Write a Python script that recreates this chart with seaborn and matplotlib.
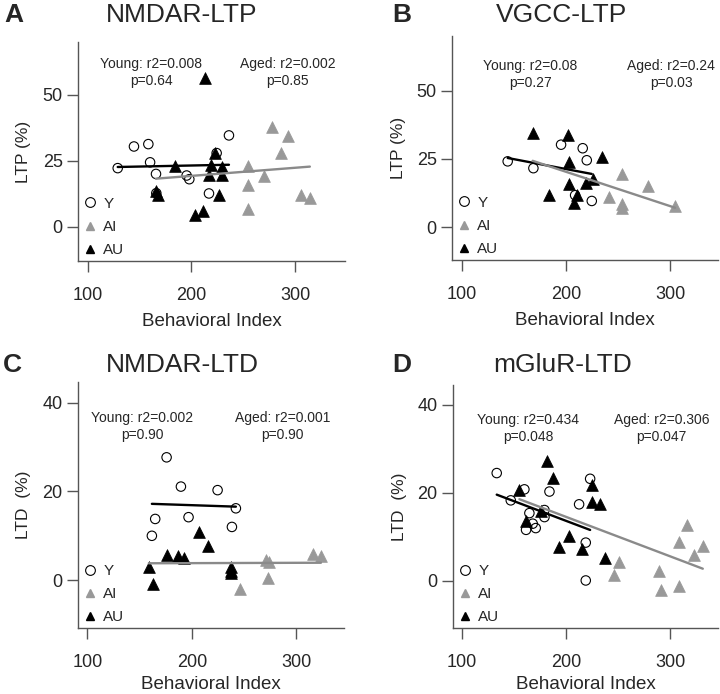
import numpy as np
import pandas as pd
import matplotlib
matplotlib.use('Agg')
from matplotlib import pyplot as plt
from matplotlib.lines import Line2D
import seaborn as sns

# A: NMDAR-LTP
a_young_x = [128.7, 144.4, 158.3, 160.0, 165.7, 166.0, 195.3, 197.9, 216.9, 224.3, 236.2]
a_young_y = [22.2, 30.4, 31.3, 24.4, 20.0, 12.7, 19.4, 18.0, 12.6, 27.9, 34.6]
a_ai_x = [254.9, 254.9, 254.9, 270.4, 278.1, 286.1, 293.5, 305.4, 314.4]
a_ai_y = [23.1, 15.9, 6.7, 19.1, 37.6, 27.9, 34.2, 12.1, 10.9]
a_au_x = [184.0, 165.6, 167.9, 203.4, 210.8, 218.9, 217.3, 222.8, 229.8, 229.8, 226.6, 213.0]
a_au_y = [23.1, 13.6, 12.1, 4.5, 6.1, 23.5, 19.7, 28.1, 22.6, 19.7, 12.1, 56.5]

# B: VGCC-LTP
b_young_x = [143.9, 168.6, 195.2, 216.0, 219.9, 224.7, 208.7]
b_young_y = [24.1, 21.6, 30.2, 28.9, 24.5, 9.6, 11.7]
b_ai_x = [241.6, 253.5, 253.5, 254.2, 278.5, 304.8]
b_ai_y = [11.1, 19.6, 8.4, 7.0, 15.1, 7.8]
b_au_x = [167.9, 202.2, 202.9, 183.7, 203.2, 210.3, 208.1, 219.0, 225.7, 234.3]
b_au_y = [34.6, 33.8, 23.8, 11.7, 15.7, 11.7, 8.9, 16.2, 17.5, 25.7]

# C: NMDAR-LTD
c_young_x = [175.8, 189.5, 224.6, 242.1, 164.9, 196.8, 161.7, 238.3]
c_young_y = [27.7, 21.1, 20.3, 16.2, 13.8, 14.2, 10.0, 12.0]
c_ai_x = [245.9, 270.8, 274.0, 272.4, 316.1, 323.5]
c_ai_y = [-2.1, 4.5, 4.1, 0.4, 5.9, 5.4]
c_au_x = [206.4, 215.0, 176.1, 186.3, 192.4, 158.8, 163.0, 237.3, 237.3, 237.3]
c_au_y = [10.9, 7.7, 5.6, 5.4, 5.1, 3.0, -0.9, 3.0, 2.1, 1.6]

# D: mGluR-LTD
d_young_x = [133.3, 146.8, 159.9, 164.7, 167.9, 161.5, 170.8, 179.2, 179.2, 184.0, 212.5, 223.1, 218.9, 218.9]
d_young_y = [24.5, 18.3, 20.8, 15.4, 13.0, 11.6, 12.0, 14.5, 16.1, 20.3, 17.4, 23.2, 8.7, 0.1]
d_ai_x = [251.3, 246.2, 289.7, 291.3, 309.0, 309.0, 316.0, 323.1, 331.4]
d_ai_y = [4.2, 1.4, 2.3, -2.0, -1.1, 8.8, 12.6, 5.9, 8.0]
d_au_x = [155.1, 181.4, 187.2, 161.8, 176.3, 193.0, 202.9, 215.1, 225.3, 225.3, 232.7, 237.5]
d_au_y = [20.7, 27.3, 23.3, 13.5, 15.8, 7.8, 10.1, 7.3, 21.7, 18.0, 17.5, 5.2]

letters = ['A', 'B', 'C', 'D']
titles = ['NMDAR-LTP', 'VGCC-LTP', 'NMDAR-LTD', 'mGluR-LTD']
ylabels = ['LTP (%)', 'LTP (%)', 'LTD  (%)', 'LTD  (%)']
young_stats = ['Young: r2=0.008\np=0.64', 'Young: r2=0.08\np=0.27',
               'Young: r2=0.002\np=0.90', 'Young: r2=0.434\np=0.048']
aged_stats = ['Aged: r2=0.002\np=0.85', 'Aged: r2=0.24\np=0.03',
              'Aged: r2=0.001\np=0.90', 'Aged: r2=0.306\np=0.047']
yticks = [[0, 25, 50], [0, 25, 50], [0, 20, 40], [0, 20, 40]]
xticks = [100, 200, 300]

sns.set_style('ticks')
plt.rcParams['font.family'] = ['Liberation Sans', 'DejaVu Sans']

AI_COLOR = '#999999'
LINE_GREY = '#8a8a8a'
SPINE = '#555555'

fig = plt.figure(figsize=(7.2, 6.94), dpi=100)
rects = [[0.1083, 0.6239, 0.3708, 0.3156],
         [0.6278, 0.6254, 0.3694, 0.3228],
         [0.1083, 0.0951, 0.3694, 0.3545],
         [0.6292, 0.0951, 0.3680, 0.3501]]
xlims = [(90.3, 348.3), (90.4, 346), (91, 345.5), (91.3, 346)]
ylims = [(-13, 70), (-12, 70), (-10.8, 44.7), (-10.7, 44.5)]
stat_pos = [(161, 292.7, 58.5), (165.4, 301, 56), (152.6, 286.6, 34.7), (163.5, 292, 34.7)]
title_pos = [(182, 15), (562, 15), (182, 365), (563, 365)]
letter_pos = [(14, 15), (402, 15), (12, 365), (402, 365)]
xlabel_pads = [6, 6, 3, 3]

panels = [
    (a_young_x, a_young_y, a_ai_x, a_ai_y, a_au_x, a_au_y),
    (b_young_x, b_young_y, b_ai_x, b_ai_y, b_au_x, b_au_y),
    (c_young_x, c_young_y, c_ai_x, c_ai_y, c_au_x, c_au_y),
    (d_young_x, d_young_y, d_ai_x, d_ai_y, d_au_x, d_au_y),
]

for i, (yx, yy, aix, aiy, aux, auy) in enumerate(panels):
    ax = fig.add_axes(rects[i])
    aged_x = np.array(aix + aux)
    aged_y = np.array(aiy + auy)

    sns.scatterplot(x=yx, y=yy, ax=ax, marker='o', s=46, facecolor='none',
                    edgecolor='black', linewidth=0.8, zorder=3)
    sns.scatterplot(x=aix, y=aiy, ax=ax, marker='^', s=72, color=AI_COLOR,
                    edgecolor=AI_COLOR, linewidth=0.5, zorder=3)
    sns.scatterplot(x=aux, y=auy, ax=ax, marker='^', s=72, color='black',
                    edgecolor='black', linewidth=0.5, zorder=4)

    sns.regplot(x=np.array(yx), y=np.array(yy), ax=ax, scatter=False, ci=None,
                truncate=True, color='black', line_kws={'lw': 1.7, 'zorder': 5})
    sns.regplot(x=aged_x, y=aged_y, ax=ax, scatter=False, ci=None,
                truncate=True, color=LINE_GREY, line_kws={'lw': 1.7, 'zorder': 5})

    ax.set_xlim(*xlims[i])
    ax.set_ylim(*ylims[i])
    ax.set_xticks(xticks)
    ax.set_yticks(yticks[i])
    ax.tick_params(axis='both', direction='out', length=8, width=1,
                   color=SPINE, labelsize=13)
    ax.tick_params(axis='x', pad=11)
    ax.tick_params(axis='y', pad=3)
    for side in ['top', 'right']:
        ax.spines[side].set_visible(False)
    for side in ['left', 'bottom']:
        ax.spines[side].set_color(SPINE)
        ax.spines[side].set_linewidth(1)

    ax.set_xlabel('Behavioral Index', fontsize=13.5, labelpad=xlabel_pads[i])
    ax.set_ylabel(ylabels[i], fontsize=12.5, labelpad=8)

    sx_young, sx_aged, sy = stat_pos[i]
    ax.text(sx_young, sy, young_stats[i], ha='center', va='center',
            fontsize=10, linespacing=1.25)
    ax.text(sx_aged, sy, aged_stats[i], ha='center', va='center',
            fontsize=10, linespacing=1.25)

    handles = [
        Line2D([], [], ls='none', marker='o', ms=7, mfc='none', mec='black', mew=0.8),
        Line2D([], [], ls='none', marker='^', ms=6, color=AI_COLOR),
        Line2D([], [], ls='none', marker='^', ms=6, color='black'),
    ]
    ax.legend(handles, ['Y', 'AI', 'AU'], loc='lower left', frameon=False,
              fontsize=11, handlelength=0.8, handletextpad=0.45,
              labelspacing=0.6, borderaxespad=0.0, bbox_to_anchor=(0.0, -0.01))

    tx, ty = title_pos[i]
    fig.text(tx / 720, 1 - ty / 694, titles[i], ha='center', va='center', fontsize=19)
    lx, ly = letter_pos[i]
    fig.text(lx / 720, 1 - ly / 694, letters[i], ha='center', va='center',
             fontsize=19, fontweight='bold')

fig.savefig('out.png', dpi=100)
